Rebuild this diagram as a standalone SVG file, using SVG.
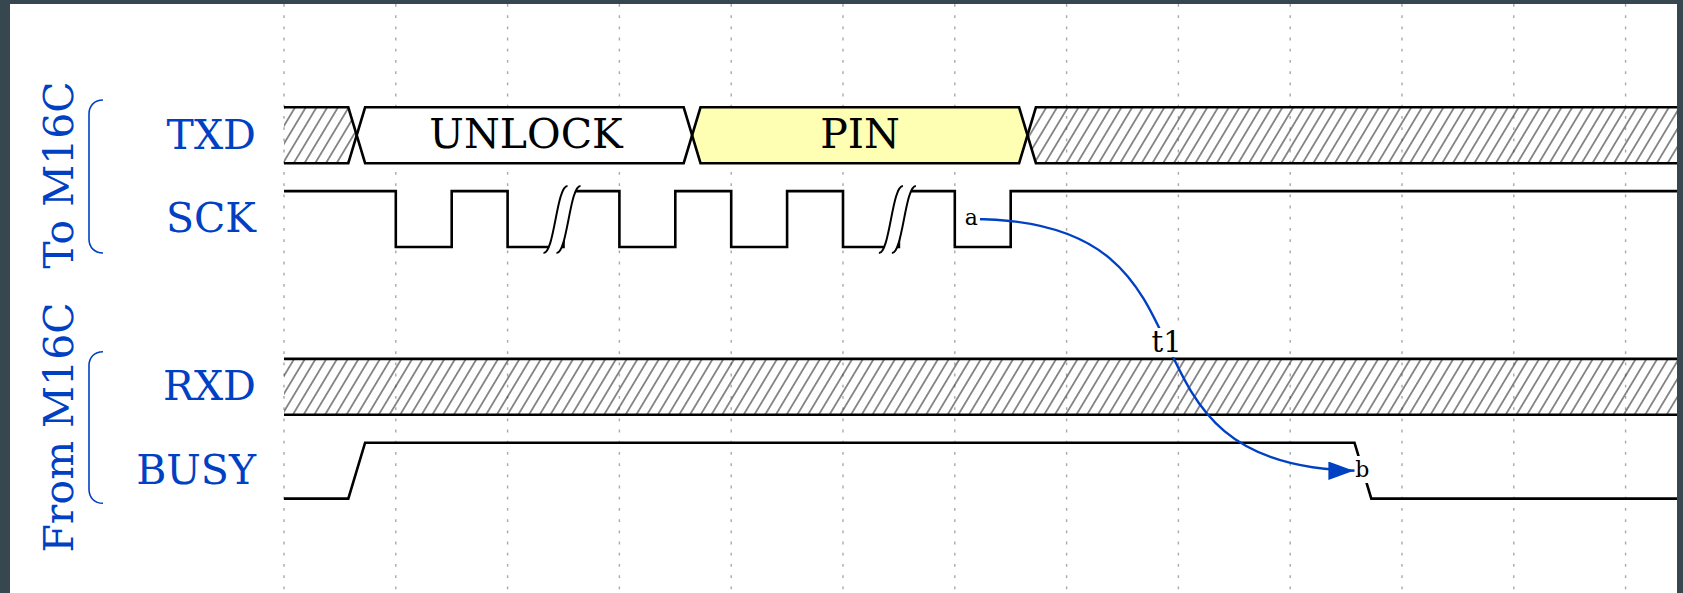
<svg xmlns="http://www.w3.org/2000/svg" width="1683" height="593" viewBox="0 0 1683 593">
<defs>
<style>
.w{fill:none;stroke:#000;stroke-width:2.6;stroke-linejoin:miter}
.name{font-family:"DejaVu Serif","Liberation Serif",serif;font-size:41px;fill:#0041c4;text-anchor:end}
.glabel{font-family:"DejaVu Serif","Liberation Serif",serif;font-size:41px;fill:#0041c4;text-anchor:middle}
.data{font-family:"DejaVu Serif","Liberation Serif",serif;font-size:41px;fill:#000;text-anchor:middle}
.grid{stroke:#a8a8a8;stroke-width:1.4;stroke-dasharray:2.8 8.4}
.hatch{fill:url(#hatch);stroke:none}
.bracket{fill:none;stroke:#0041c4;stroke-width:1.6}
.edge{fill:none;stroke:#0041c4;stroke-width:2.4;marker-end:url(#arrow)}
.lbl{font-family:"DejaVu Serif","Liberation Serif",serif;fill:#000;text-anchor:middle}
.bg{fill:#fff;stroke:none}
</style>
<pattern id="hatch" patternUnits="userSpaceOnUse" width="9.2" height="20" patternTransform="rotate(31)">
<line x1="4.6" y1="-1" x2="4.6" y2="21" stroke="#333" stroke-width="1.1"/>
</pattern>
<marker id="arrow" viewBox="0 -4 11 8" markerWidth="25.3" markerHeight="18.4" refX="15" refY="0" orient="auto" markerUnits="userSpaceOnUse">
<path d="M0,-4 11,0 0,4z" fill="#0041c4"/>
</marker>
<g id="gap">
<path d="M17,-5 C6,-5 4,62 -7,62 L-20,62 C-9,62 -7,-5 4,-5 Z" fill="#fff"/>
<path d="M17,-5 C6,-5 4,62 -7,62 M4,-5 C-7,-5 -9,62 -20,62" fill="none" stroke="#000" stroke-width="2"/>
</g>
</defs>
<rect width="1683" height="593" fill="#37474f"/>
<rect x="10" y="4" width="1667" height="589" fill="#fff"/>
<g id="grid" class="grid">
<line x1="284" y1="4" x2="284" y2="593"/>
<line x1="395.8" y1="4" x2="395.8" y2="593"/>
<line x1="507.6" y1="4" x2="507.6" y2="593"/>
<line x1="619.4" y1="4" x2="619.4" y2="593"/>
<line x1="731.2" y1="4" x2="731.2" y2="593"/>
<line x1="843" y1="4" x2="843" y2="593"/>
<line x1="954.8" y1="4" x2="954.8" y2="593"/>
<line x1="1066.6" y1="4" x2="1066.6" y2="593"/>
<line x1="1178.4" y1="4" x2="1178.4" y2="593"/>
<line x1="1290.2" y1="4" x2="1290.2" y2="593"/>
<line x1="1402" y1="4" x2="1402" y2="593"/>
<line x1="1513.8" y1="4" x2="1513.8" y2="593"/>
<line x1="1625.6" y1="4" x2="1625.6" y2="593"/>
</g>
<g id="group-to">
<path class="bracket" d="M103,100 c-8.4,0 -14,5.6 -14,14 L89,239 c0,8.4 5.6,14 14,14"/>
<text class="glabel" transform="translate(73,175) rotate(-90)">To M16C</text>
</g>
<g id="group-from">
<path class="bracket" d="M103,351.7 c-8.4,0 -14,5.6 -14,14 L89,489.3 c0,8.4 5.6,14 14,14"/>
<text class="glabel" transform="translate(73,427.5) rotate(-90)">From M16C</text>
</g>
<g id="lane-txd">
<text class="name" x="256" y="148.5">TXD</text>
<path class="hatch" d="M284,107.3 H348.3 L356.7,135.3 L348.3,163.2 H284 Z"/>
<path fill="#fff" d="M356.7,135.3 L365.1,107.3 H683.7 L692.1,135.3 L683.7,163.2 H365.1 Z"/>
<path fill="#ffffb4" d="M692.1,135.3 L700.5,107.3 H1019.1 L1027.5,135.3 L1019.1,163.2 H700.5 Z"/>
<path class="hatch" d="M1027.5,135.3 L1035.9,107.3 H1677 V163.2 H1035.9 Z"/>
<path class="w" d="M284,107.3 H348.3 L365.1,163.2 H683.7 L700.5,107.3 H1019.1 L1035.9,163.2 H1677"/>
<path class="w" d="M284,163.2 H348.3 L365.1,107.3 H683.7 L700.5,163.2 H1019.1 L1035.9,107.3 H1677"/>
<text class="data" x="526" y="148">UNLOCK</text>
<text class="data" x="860" y="148">PIN</text>
</g>
<g id="lane-sck">
<text class="name" x="256" y="232.3">SCK</text>
<path class="w" d="M284,191.1 H395.8 V247 H451.7 V191.1 H507.6 V247 H563.5 V191.1 H619.4 V247 H675.3 V191.1 H731.2 V247 H787.1 V191.1 H843 V247 H898.9 V191.1 H954.8 V247 H1010.7 V191.1 H1677"/>
<use href="#gap" transform="translate(563.5,191.1)"/>
<use href="#gap" transform="translate(898.9,191.1)"/>
</g>
<g id="lane-rxd">
<text class="name" x="256" y="400">RXD</text>
<rect class="hatch" x="284" y="358.9" width="1393" height="55.9"/>
<path class="w" d="M284,358.9 H1677 M284,414.8 H1677"/>
</g>
<g id="lane-busy">
<text class="name" x="256" y="484">BUSY</text>
<path class="w" d="M284,498.6 H348.3 L365.1,442.7 H1354.5 L1371.3,498.6 H1677"/>
</g>
<g id="connectors">
<path class="edge" d="M971.6,219 C1245.5,219 1089,470.7 1362.9,470.7"/>
<rect class="bg" x="962" y="206" width="18" height="26"/>
<text class="lbl" x="971.3" y="225" font-size="22">a</text>
<rect class="bg" x="1354.5" y="456" width="16" height="27"/>
<text class="lbl" x="1362.3" y="477" font-size="22">b</text>
<rect class="bg" x="1149" y="328" width="35" height="29"/>
<text class="lbl" x="1166.6" y="352" font-size="29">t1</text>
</g>
</svg>
